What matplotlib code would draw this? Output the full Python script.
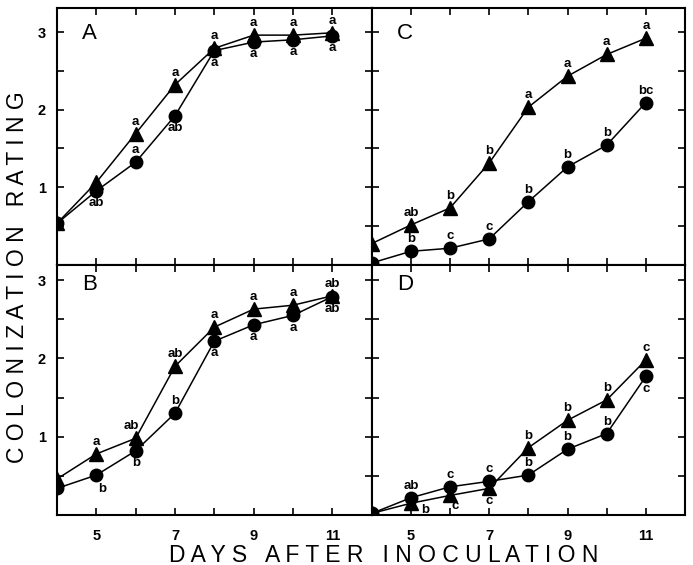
import numpy as np
from matplotlib import pyplot as plt

plt.rcParams['font.family'] = ['Liberation Sans', 'DejaVu Sans']

days = [4, 5, 6, 7, 8, 9, 10, 11]

# panel A
a_tri = [0.53, 1.06, 1.69, 2.32, 2.79, 2.96, 2.96, 2.99]
a_cir = [0.53, 0.95, 1.32, 1.92, 2.76, 2.87, 2.90, 2.95]
a_tri_lab = ['', '', 'a', 'a', 'a', 'a', 'a', 'a']
a_cir_lab = ['', 'ab', 'a', 'ab', 'a', 'a', 'a', 'a']

# panel B
b_tri = [0.46, 0.78, 0.98, 1.90, 2.40, 2.63, 2.68, 2.80]
b_cir = [0.34, 0.51, 0.82, 1.30, 2.22, 2.43, 2.55, 2.79]
b_tri_lab = ['', 'a', 'ab', 'ab', 'a', 'a', 'a', 'ab']
b_cir_lab = ['', 'b', 'b', 'b', 'a', 'a', 'a', 'ab']

# panel C
c_tri = [0.27, 0.51, 0.73, 1.31, 2.03, 2.43, 2.71, 2.92]
c_cir = [0.02, 0.17, 0.21, 0.33, 0.81, 1.26, 1.54, 2.09]
c_tri_lab = ['', 'ab', 'b', 'b', 'a', 'a', 'a', 'a']
c_cir_lab = ['', 'b', 'c', 'c', 'b', 'b', 'b', 'bc']

# panel D
d_tri = [0.02, 0.15, 0.25, 0.34, 0.86, 1.21, 1.47, 1.98]
d_cir = [0.02, 0.22, 0.36, 0.43, 0.51, 0.84, 1.04, 1.77]
d_tri_lab = ['', 'b', 'c', 'c', 'b', 'b', 'b', 'c']
d_cir_lab = ['', 'ab', 'c', 'c', 'b', 'b', 'b', 'c']

# label placement (dx, dy) in points, baseline aligned
UP = (0, 6.5)
DN = (0, -11)
a_tri_off = [UP] * 8
a_cir_off = [UP, DN, UP, DN, DN, DN, DN, DN]
b_tri_off = [UP, UP, (-3, 7), UP, UP, UP, UP, UP]
b_cir_off = [DN, (4, -12), DN, UP, DN, DN, DN, DN]
c_tri_off = [UP] * 8
c_cir_off = [UP] * 8
d_tri_off = [UP, (10, -7), (4, -10), DN, UP, UP, UP, UP]
d_cir_off = [UP, UP, UP, UP, UP, UP, UP, DN]


def spaced(s):
    # wide letter spacing like the original lettering
    return '   '.join(' '.join(w) for w in s.split())


fig = plt.figure(figsize=(6.93, 5.65), dpi=100)
L, M, R = 57 / 693, 371.7 / 693, 685 / 693
T, MY, B = 1 - 8 / 565, 1 - 264.5 / 565, 1 - 515 / 565

panels = [
    ('A', [L, MY, M - L, T - MY], 3.31, a_tri, a_cir, a_tri_lab, a_cir_lab, a_tri_off, a_cir_off, True, False),
    ('C', [M, MY, R - M, T - MY], 3.31, c_tri, c_cir, c_tri_lab, c_cir_lab, c_tri_off, c_cir_off, False, False),
    ('B', [L, B, M - L, MY - B], 3.2, b_tri, b_cir, b_tri_lab, b_cir_lab, b_tri_off, b_cir_off, True, True),
    ('D', [M, B, R - M, MY - B], 3.2, d_tri, d_cir, d_tri_lab, d_cir_lab, d_tri_off, d_cir_off, False, True),
]

for name, rect, ytop, tri, cir, tlab, clab, toff, coff, ylab, xlab in panels:
    ax = fig.add_axes(rect)
    ax.plot(days, tri, '-', color='black', lw=1.1, marker='^', ms=10.5, mec='black', mfc='black')
    ax.plot(days, cir, '-', color='black', lw=1.1, marker='o', ms=9, mec='black', mfc='black')
    for x, y, s, o in zip(days, tri, tlab, toff):
        if s:
            ax.annotate(s, (x, y), xytext=o, textcoords='offset points', ha='center',
                        va='baseline', fontsize=9.5, fontweight='bold')
    for x, y, s, o in zip(days, cir, clab, coff):
        if s:
            ax.annotate(s, (x, y), xytext=o, textcoords='offset points', ha='center',
                        va='baseline', fontsize=9.5, fontweight='bold')
    ax.set_xlim(4, 12)
    ax.set_ylim(0, ytop)
    ax.set_xticks([5, 6, 7, 8, 9, 10, 11])
    ax.set_xticklabels(['5', '', '7', '', '9', '', '11'] if xlab else [])
    ax.set_yticks([0.5, 1, 1.5, 2, 2.5, 3])
    ax.set_yticklabels(['', '1', '', '2', '', '3'] if ylab else [])
    ax.tick_params(direction='in', top=True, right=True, length=5, width=1.2,
                   labelsize=10.5, pad=8)
    ax.tick_params(axis='x', pad=10)
    for lbl in ax.get_xticklabels() + ax.get_yticklabels():
        lbl.set_fontweight('bold')
    for sp in ax.spines.values():
        sp.set_linewidth(1.5)
    ax.text(0.08, 0.9 if ytop > 3.25 else 0.92, name, transform=ax.transAxes,
            fontsize=16, va='center', ha='left')

fig.text(384 / 693, 1 - 555 / 565, spaced('DAYS AFTER INOCULATION'),
         ha='center', va='center', fontsize=16.5)
fig.text(18 / 693, 1 - 277 / 565, spaced('COLONIZATION RATING'),
         ha='center', va='center', rotation=90, fontsize=16.5)

plt.savefig('out.png', dpi=100)
